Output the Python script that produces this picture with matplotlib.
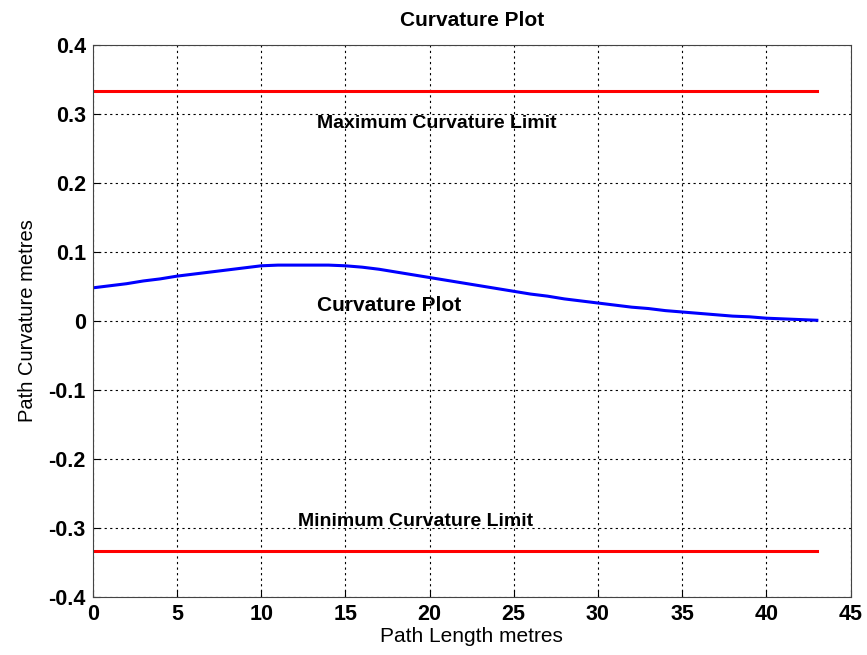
import numpy as np
import matplotlib
matplotlib.use("Agg")
import matplotlib.pyplot as plt

# path length samples (metres) and curvature
path_len = [0, 1, 2, 3, 4, 5, 6, 7, 8, 9, 10, 11, 12, 13, 14, 15, 16, 17, 18, 19,
            20, 21, 22, 23, 24, 25, 26, 27, 28, 29, 30, 31, 32, 33, 34, 35, 36, 37,
            38, 39, 40, 41, 42, 43]
curvature = [0.048, 0.051, 0.054, 0.058, 0.061, 0.065, 0.068, 0.071, 0.074, 0.077,
             0.080, 0.081, 0.081, 0.081, 0.081, 0.080, 0.078, 0.075, 0.071, 0.067,
             0.063, 0.059, 0.055, 0.051, 0.047, 0.043, 0.039, 0.036, 0.032, 0.029,
             0.026, 0.023, 0.020, 0.018, 0.015, 0.013, 0.011, 0.009, 0.007, 0.006,
             0.004, 0.003, 0.002, 0.001]
max_limit = 1.0 / 3.0
min_limit = -1.0 / 3.0
limit_span = [0, 43]

plt.rcParams['font.family'] = ['Liberation Sans', 'DejaVu Sans']

fig = plt.figure(figsize=(8.67, 6.55), dpi=100)
ax = fig.add_axes([0.107, 0.089, 0.874, 0.842])

ax.plot(limit_span, [max_limit, max_limit], color='red', lw=2.2)
ax.plot(limit_span, [min_limit, min_limit], color='red', lw=2.2)
ax.plot(path_len, curvature, color='blue', lw=2.2)

ax.text(13.3, 0.287, 'Maximum Curvature Limit', fontsize=14, fontweight='bold', va='center')
ax.text(13.3, 0.022, 'Curvature Plot', fontsize=15, fontweight='bold', va='center')
ax.text(12.2, -0.291, 'Minimum Curvature Limit', fontsize=14, fontweight='bold', va='center')

ax.set_xlim(0, 45)
ax.set_ylim(-0.4, 0.4)
ax.set_xticks(np.arange(0, 46, 5))
ax.set_yticks(np.round(np.arange(-0.4, 0.41, 0.1), 1))
ax.set_yticklabels(['-0.4', '-0.3', '-0.2', '-0.1', '0', '0.1', '0.2', '0.3', '0.4'])
ax.grid(True, color='black', linestyle=(0, (2, 3)), lw=0.8)
ax.tick_params(direction='in', labelsize=15.5, length=5, pad=5)
for lbl in ax.get_xticklabels() + ax.get_yticklabels():
    lbl.set_fontweight('bold')
for sp in ax.spines.values():
    sp.set_color('#444444')

ax.set_xlabel('Path Length metres', fontsize=15, labelpad=2)
ax.set_ylabel('Path Curvature metres', fontsize=14.5, labelpad=8)
ax.set_title('Curvature Plot', fontsize=15, fontweight='bold', pad=14)

fig.savefig('out.png', dpi=100)
